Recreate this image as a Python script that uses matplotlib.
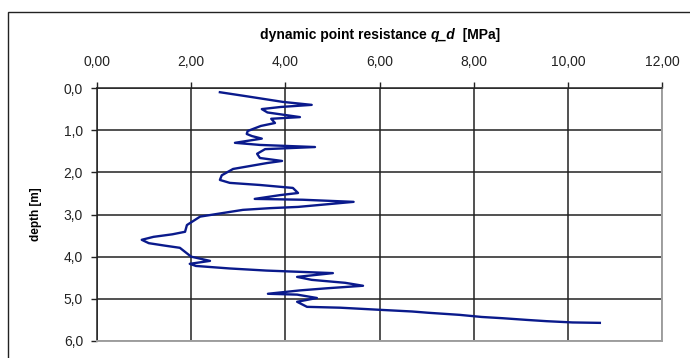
import matplotlib.pyplot as plt
from matplotlib.patches import Rectangle

plt.rcParams['font.family'] = ['Liberation Sans', 'DejaVu Sans']

# depth [m] and dynamic point resistance q_d [MPa]
depth = [0.10, 0.20, 0.33, 0.40, 0.45, 0.50, 0.58, 0.69, 0.73, 0.83,
         0.90, 1.02, 1.09, 1.14, 1.20, 1.30, 1.35, 1.40, 1.45, 1.56,
         1.66, 1.73, 1.78, 1.92, 2.07, 2.18, 2.25, 2.30, 2.37, 2.49,
         2.54, 2.63, 2.65, 2.70, 2.82, 2.85, 2.89, 3.05, 3.25, 3.41,
         3.47, 3.53, 3.60, 3.68, 3.74, 3.79, 4.00, 4.10, 4.17, 4.22,
         4.28, 4.33, 4.36, 4.39, 4.48, 4.55, 4.62, 4.69, 4.75, 4.80,
         4.88, 4.90, 4.98, 5.07, 5.19, 5.21, 5.26, 5.30, 5.33, 5.38,
         5.43, 5.46, 5.50, 5.53, 5.56, 5.57]
qd = [2.61, 3.20, 3.95, 4.56, 3.90, 3.50, 3.62, 4.31, 3.70, 3.78,
      3.48, 3.20, 3.18, 3.29, 3.50, 2.93, 3.46, 4.63, 3.57, 3.40,
      3.46, 3.93, 3.61, 2.89, 2.65, 2.61, 2.82, 3.46, 4.16, 4.27,
      3.89, 3.35, 4.37, 5.45, 4.27, 3.67, 3.10, 2.19, 1.91, 1.87,
      1.60, 1.20, 0.95, 1.10, 1.45, 1.76, 2.00, 2.40, 1.97, 2.10,
      2.82, 3.60, 4.31, 5.01, 4.25, 4.56, 5.27, 5.65, 4.88, 4.31,
      3.63, 4.25, 4.67, 4.25, 4.46, 5.16, 6.00, 6.69, 7.03, 7.70,
      8.17, 8.62, 9.13, 9.55, 10.10, 10.68]

x_ticks = [0, 2, 4, 6, 8, 10, 12]
x_labels = ['0,00', '2,00', '4,00', '6,00', '8,00', '10,00', '12,00']
y_ticks = [0, 1, 2, 3, 4, 5, 6]
y_labels = ['0,0', '1,0', '2,0', '3,0', '4,0', '5,0', '6,0']

W, H = 690, 358
fig = plt.figure(figsize=(W / 100, H / 100), dpi=100)
ax = fig.add_axes([97 / W, 1 - 341 / H, (662 - 97) / W, (341 - 88) / H])

# outer chart frame (runs off the right and bottom edge)
fig.patches.append(Rectangle((8 / W, -0.1), 1.1, 1 - 12 / H + 0.1,
                             transform=fig.transFigure, fill=False,
                             edgecolor='#222222', lw=1.0, clip_on=False))

ax.plot(qd, depth, color='#0a1a8c', lw=1.7, zorder=3)

ax.set_xlim(0, 12)
ax.set_ylim(6, 0)
ax.set_xticks(x_ticks)
ax.set_xticklabels(x_labels)
ax.set_yticks(y_ticks)
ax.set_yticklabels(y_labels)
ax.xaxis.tick_top()
ax.tick_params(axis='both', direction='out', length=4, width=1,
               labelsize=10, colors='#222222', pad=6)
ax.tick_params(axis='x', pad=10)
ax.grid(True, color='#222222', lw=1.1)

for side in ['left', 'top']:
    ax.spines[side].set_color('#222222')
    ax.spines[side].set_linewidth(1.1)
for side in ['right', 'bottom']:
    ax.spines[side].set_color('#a0a0a0')
    ax.spines[side].set_linewidth(1.4)

ax.set_ylabel('depth [m]', fontsize=8.5, fontweight='bold', labelpad=16)

# title in three pieces so that q_d is bold italic
fig.canvas.draw()
r = fig.canvas.get_renderer()
parts = [('dynamic point resistance ', 'normal'), ('q_d', 'italic'), ('  [MPa]', 'normal')]
texts = []
for s, st in parts:
    t = fig.text(0, 1 - 35 / H, s, fontsize=10, fontweight='bold', style=st,
                 va='center', ha='left')
    texts.append(t)
widths = [t.get_window_extent(r).width for t in texts]
x0 = 380 - sum(widths) / 2
for t, w in zip(texts, widths):
    t.set_x(x0 / W)
    x0 += w

fig.savefig('out.png', dpi=100)
